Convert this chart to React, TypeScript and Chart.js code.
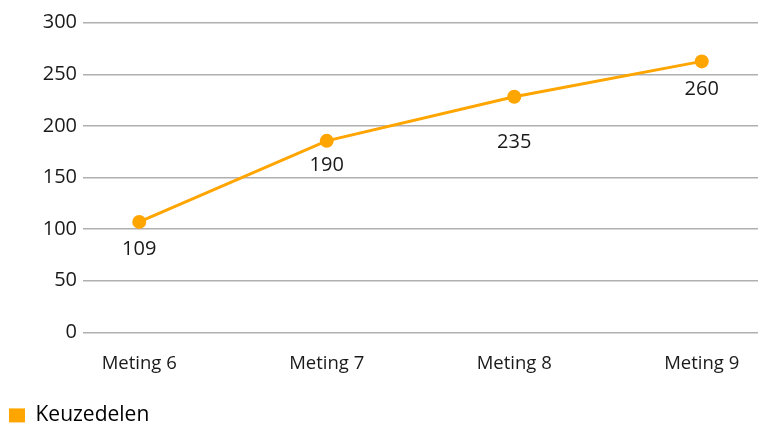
import React, { useEffect, useRef } from "react";
import { Chart, registerables } from "chart.js";

Chart.register(...registerables);

const categories = ["Meting 6", "Meting 7", "Meting 8", "Meting 9"];
const seriesName = "Keuzedelen";
const values = [107, 185.5, 228.3, 262.5];
const valueLabels = ["109", "190", "235", "260"];
const yTicks = [0, 50, 100, 150, 200, 250, 300];

const labelOffsets = [27, 24, 46, 27.5];
const FONT = "'Open Sans', 'Noto Sans', sans-serif";
const ORANGE = "#ffa500";

const dataLabelPlugin = {
  id: "dataLabels",
  afterDatasetsDraw(chart: any) {
    const ctx = chart.ctx;
    const meta = chart.getDatasetMeta(0);
    ctx.save();
    ctx.font = `20px ${FONT}`;
    ctx.fillStyle = "#1a1a1a";
    ctx.textAlign = "center";
    ctx.textBaseline = "middle";
    meta.data.forEach((pt: any, i: number) => {
      ctx.fillText(valueLabels[i], pt.x, pt.y + labelOffsets[i]);
    });
    ctx.restore();
  },
};

export default function App() {
  const ref = useRef<HTMLCanvasElement>(null);
  useEffect(() => {
    if (!ref.current) return;
    const chart = new Chart(ref.current, {
      type: "line",
      data: {
        datasets: [
          {
            label: seriesName,
            data: values.map((v, i) => ({ x: i, y: v })),
            borderColor: ORANGE,
            backgroundColor: ORANGE,
            borderWidth: 3,
            pointRadius: 7,
            pointHoverRadius: 7,
            pointBackgroundColor: ORANGE,
            pointBorderWidth: 0,
            tension: 0,
          },
        ],
      },
      options: {
        animation: false,
        responsive: false,
        layout: { padding: { top: 22.7, right: -6, left: 0, bottom: -11.9 } },
        plugins: {
          tooltip: { enabled: false },
          legend: {
            position: "bottom",
            align: "start",
            labels: {
              boxWidth: 16,
              boxHeight: 14,
              padding: 9,
              color: "#1a1a1a",
              font: { family: FONT, size: 21 },
              generateLabels: () => [
                {
                  text: seriesName,
                  fillStyle: ORANGE,
                  strokeStyle: ORANGE,
                  lineWidth: 0,
                  datasetIndex: 0,
                  hidden: false,
                },
              ],
            },
          },
        },
        scales: {
          x: {
            type: "linear",
            min: -0.3,
            max: 3.3,
            afterBuildTicks: (scale: any) => {
              scale.ticks = categories.map((_, i) => ({ value: i }));
            },
            afterFit: (scale: any) => {
              scale.paddingLeft = 0;
              scale.paddingRight = 0;
              scale.height = 63.6;
            },
            grid: { display: false },
            border: { display: false },
            ticks: {
              color: "#1a1a1a",
              font: { family: FONT, size: 18.5 },
              padding: 12,
              maxRotation: 0,
              callback: (v: any) => categories[v] ?? "",
            },
          },
          y: {
            min: 0,
            max: 300,
            afterBuildTicks: (scale: any) => {
              scale.ticks = yTicks.map((v) => ({ value: v }));
            },
            afterFit: (scale: any) => {
              scale.width = 83;
            },
            grid: { color: "#b0b0b0", lineWidth: 1.5, drawTicks: false },
            border: { display: false },
            ticks: {
              color: "#1a1a1a",
              font: { family: FONT, size: 20 },
              padding: 6,
            },
          },
        },
      },
      plugins: [dataLabelPlugin],
    } as any);
    return () => chart.destroy();
  }, []);
  return (
    <div style={{ position: "absolute", left: 0, top: 0, width: 760, height: 424, overflow: "hidden" }}>
      <canvas ref={ref} width={765} height={424} style={{ display: "block" }} />
    </div>
  );
}
